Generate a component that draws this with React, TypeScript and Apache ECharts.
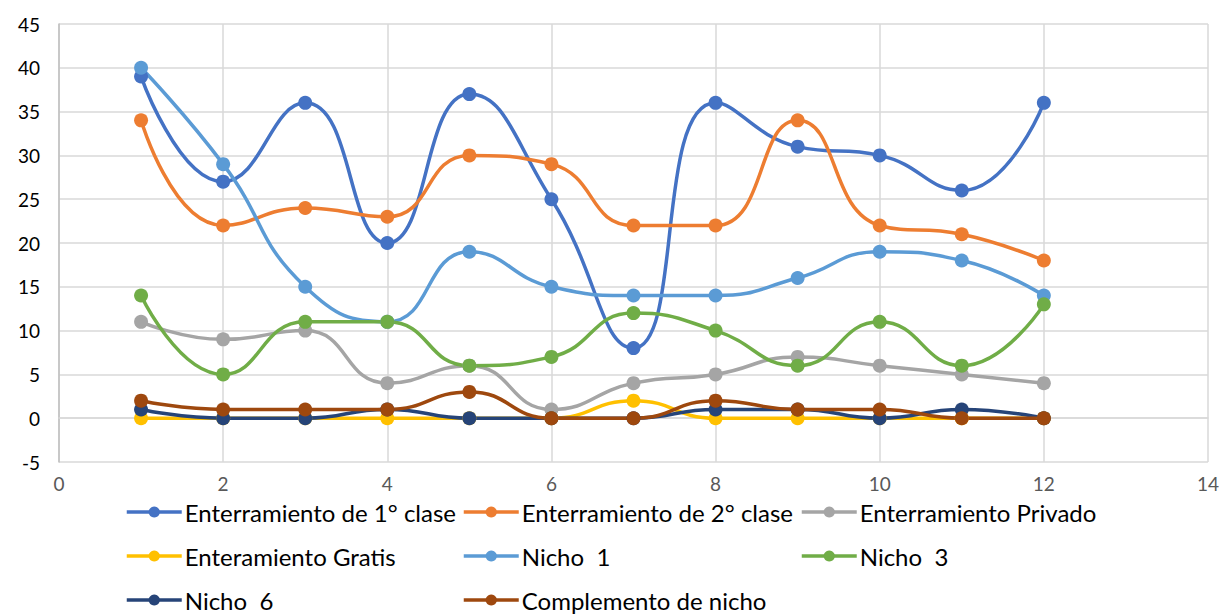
import React, { useEffect, useRef } from "react";
import * as echarts from "echarts";

const xValues = [1, 2, 3, 4, 5, 6, 7, 8, 9, 10, 11, 12];
const seriesNames = [
  "Enterramiento de 1° clase",
  "Enterramiento de 2° clase",
  "Enterramiento Privado",
  "Enteramiento Gratis",
  "Nicho  1",
  "Nicho  3",
  "Nicho  6",
  "Complemento de nicho",
];
const primeraClase = [39, 27, 36, 20, 37, 25, 8, 36, 31, 30, 26, 36];
const segundaClase = [34, 22, 24, 23, 30, 29, 22, 22, 34, 22, 21, 18];
const privado = [11, 9, 10, 4, 6, 1, 4, 5, 7, 6, 5, 4];
const gratis = [0, 0, 0, 0, 0, 0, 2, 0, 0, 0, 0, 0];
const nicho1 = [40, 29, 15, 11, 19, 15, 14, 14, 16, 19, 18, 14];
const nicho3 = [14, 5, 11, 11, 6, 7, 12, 10, 6, 11, 6, 13];
const nicho6 = [1, 0, 0, 1, 0, 0, 0, 1, 1, 0, 1, 0];
const complemento = [2, 1, 1, 1, 3, 0, 0, 2, 1, 1, 0, 0];
const allValues = [primeraClase, segundaClase, privado, gratis, nicho1, nicho3, nicho6, complemento];
const colors = ["#4472C4", "#ED7D31", "#A5A5A5", "#FFC000", "#5B9BD5", "#70AD47", "#264478", "#9E480E"];

const FONT = "Lato";
const legendCols = [125, 462, 800];
const legendRows = [514, 558, 602];

export default function App() {
  const ref = useRef<HTMLDivElement>(null);
  useEffect(() => {
    document.body.style.margin = "0";
    const chart = echarts.init(ref.current!, null, { renderer: "svg" });
    const series = seriesNames.map((name, i) => ({
      name,
      type: "line",
      data: xValues.map((x, j) => [x, allValues[i][j]]),
      smooth: 0.5,
      symbol: "circle",
      symbolSize: 14,
      lineStyle: { width: 3.5, color: colors[i] },
      itemStyle: { color: colors[i] },
    }));
    const legends = seriesNames.map((name, i) => ({
      orient: "horizontal",
      left: legendCols[i % 3],
      top: legendRows[Math.floor(i / 3)] - 16,
      padding: 0,
      itemWidth: 55,
      itemHeight: 14,
      data: [name],
      lineStyle: { width: 3.5 },
      textStyle: { fontFamily: FONT, fontSize: 24, color: "#000", lineHeight: 28, padding: [0, 0, 0, -2] },
    }));
    chart.setOption({
      animation: false,
      color: colors,
      grid: { left: 59, right: 13, top: 24, bottom: 154, containLabel: false },
      xAxis: {
        type: "value",
        min: 0,
        max: 14,
        interval: 2,
        axisLine: { onZero: true, lineStyle: { color: "#d9d9d9", width: 1.5 } },
        axisTick: { show: false },
        axisLabel: { color: "#595959", fontFamily: FONT, fontSize: 19, margin: 12 },
        splitLine: { show: true, lineStyle: { color: "#d9d9d9", width: 1.5 } },
      },
      yAxis: {
        type: "value",
        min: -5,
        max: 45,
        interval: 5,
        axisLine: { show: true, onZero: false, lineStyle: { color: "#bfbfbf", width: 1.5 } },
        axisTick: { show: false },
        axisLabel: { color: "#000", fontFamily: FONT, fontSize: 19, margin: 19 },
        splitLine: { show: true, lineStyle: { color: "#d9d9d9", width: 1.5 } },
      },
      legend: legends,
      series,
    });
    return () => chart.dispose();
  }, []);
  return <div ref={ref} style={{ width: 1222, height: 616 }} />;
}
